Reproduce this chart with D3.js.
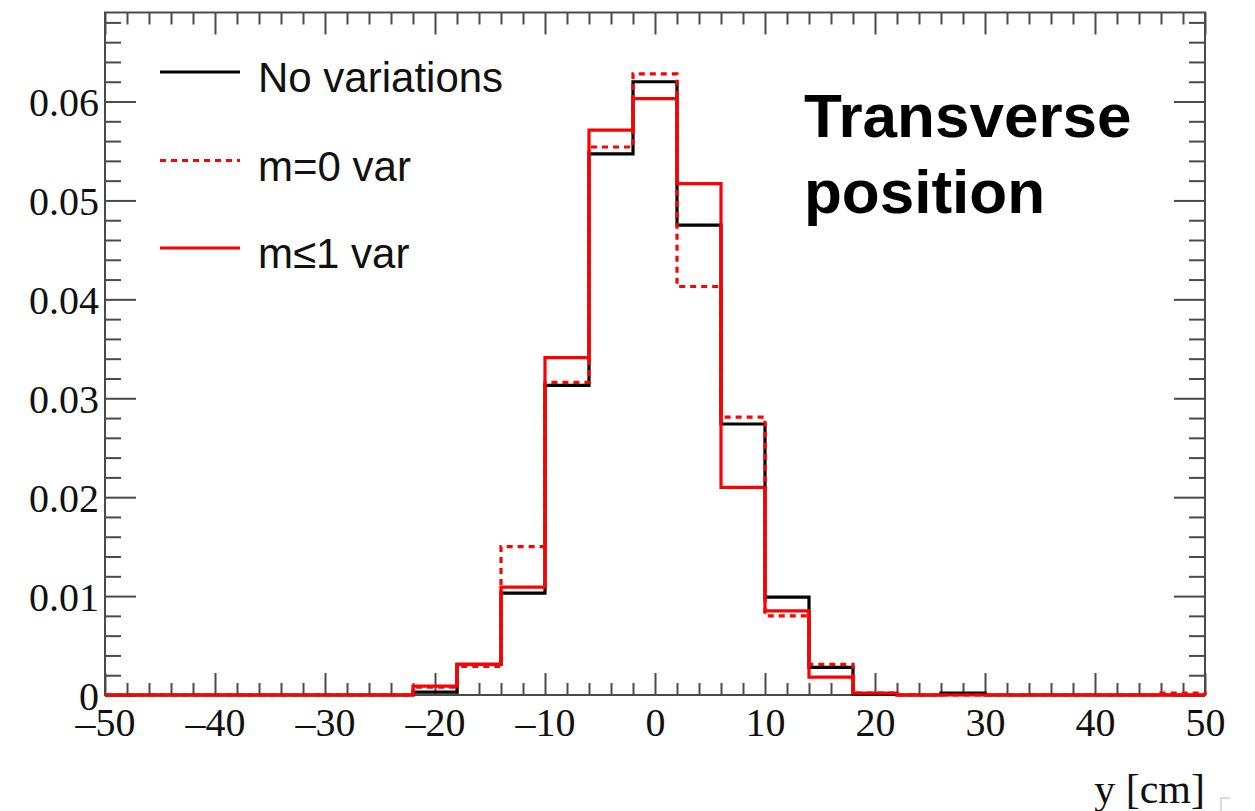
<!DOCTYPE html>
<html>
<head>
<meta charset="utf-8">
<script src="https://cdn.jsdelivr.net/npm/d3@7"></script>
<style>
  html, body { margin: 0; padding: 0; background: #fff; }
  svg { display: block; }
</style>
</head>
<body>
<svg id="chart" width="1255" height="811"></svg>
<script>
// ---------------- data ----------------
const binEdges = [-50,-46,-42,-38,-34,-30,-26,-22,-18,-14,-10,-6,-2,2,6,10,14,18,22,26,30,34,38,42,46,50];
const noVariations = [0,0,0,0,0,0,0,0.0003,0.0031,0.0103,0.0313,0.0547,0.0620,0.0475,0.0274,0.0099,0.0028,0.0001,0,0.0002,0,0,0,0,0];
const m0Var        = [0,0,0,0,0,0,0,0.0008,0.0029,0.0150,0.0316,0.0554,0.0628,0.0413,0.0281,0.0080,0.0031,0.0002,0,0,0,0,0,0,0.0002];
const m1Var        = [0,0,0,0,0,0,0,0.0009,0.0031,0.0109,0.0341,0.0571,0.0603,0.0517,0.0210,0.0085,0.0018,0.0002,0,0,0,0,0,0,0];
const xMajorTicks = [-50,-40,-30,-20,-10,0,10,20,30,40,50];
const yMajorTicks = [0,0.01,0.02,0.03,0.04,0.05,0.06];
const legendLabels = ["No variations", "m=0 var", "m\u22641 var"];
const xTitle = "y [cm]";
const annotation = ["Transverse", "position"];

// ---------------- layout ----------------
const L = 105, R = 1205, T = 12.5, B = 695;
const svg = d3.select("#chart");
const x = d3.scaleLinear().domain([-50, 50]).range([L, R]);
const y = d3.scaleLinear().domain([0, 0.069]).range([B, T]);

const serif = "'Liberation Serif','Times New Roman',serif";
const sans = "'Liberation Sans',Arial,Helvetica,sans-serif";
const axisColor = "#4a4a4a";

// minor tick values
const xMinor = d3.range(-50, 50.001, 2).filter(v => Math.abs(v % 10) > 1e-9);
const yMinor = d3.range(0, 0.0685, 0.002).filter(v => Math.abs(Math.round(v * 1000) % 10) > 1e-9);

function styleAxis(g) {
  g.select(".domain").remove();
  g.selectAll(".tick line").attr("stroke", axisColor).attr("stroke-width", 2);
}

// bottom axis (labels + major ticks inward)
const gx = svg.append("g").attr("transform", `translate(0,${B})`)
  .call(d3.axisBottom(x).tickValues(xMajorTicks).tickSizeInner(-22).tickSizeOuter(0).tickPadding(0)
        .tickFormat(d => d < 0 ? "\u2013" + Math.abs(d) : String(d)));
styleAxis(gx);
gx.selectAll(".tick text").attr("y", 12).attr("dy", "0.72em")
  .attr("font-family", serif).attr("font-size", 40).attr("fill", "#111");
svg.append("g").attr("transform", `translate(0,${B})`)
  .call(d3.axisBottom(x).tickValues(xMinor).tickSizeInner(-12).tickSizeOuter(0).tickFormat(""))
  .call(styleAxis);

// top axis (ticks only, inward)
svg.append("g").attr("transform", `translate(0,${T})`)
  .call(d3.axisTop(x).tickValues(xMajorTicks).tickSizeInner(-22).tickSizeOuter(0).tickFormat(""))
  .call(styleAxis);
svg.append("g").attr("transform", `translate(0,${T})`)
  .call(d3.axisTop(x).tickValues(xMinor).tickSizeInner(-12).tickSizeOuter(0).tickFormat(""))
  .call(styleAxis);

// left axis
const gy = svg.append("g").attr("transform", `translate(${L},0)`)
  .call(d3.axisLeft(y).tickValues(yMajorTicks).tickSizeInner(-31).tickSizeOuter(0).tickPadding(6)
        .tickFormat(d => d === 0 ? "0" : d3.format(".2f")(d)));
styleAxis(gy);
gy.selectAll(".tick text").attr("x", -6).attr("dy", "0.36em")
  .attr("font-family", serif).attr("font-size", 40).attr("fill", "#111");
svg.append("g").attr("transform", `translate(${L},0)`)
  .call(d3.axisLeft(y).tickValues(yMinor).tickSizeInner(-16).tickSizeOuter(0).tickFormat(""))
  .call(styleAxis);

// right axis
svg.append("g").attr("transform", `translate(${R},0)`)
  .call(d3.axisRight(y).tickValues(yMajorTicks).tickSizeInner(-31).tickSizeOuter(0).tickFormat(""))
  .call(styleAxis);
svg.append("g").attr("transform", `translate(${R},0)`)
  .call(d3.axisRight(y).tickValues(yMinor).tickSizeInner(-16).tickSizeOuter(0).tickFormat(""))
  .call(styleAxis);

// frame
svg.append("rect").attr("x", L).attr("y", T).attr("width", R - L).attr("height", B - T)
  .attr("fill", "none").attr("stroke", axisColor).attr("stroke-width", 2);

// ---------------- histograms ----------------
function stepPoints(vals) {
  const pts = [[binEdges[0], 0]];
  vals.forEach((v, i) => { pts.push([binEdges[i], v]); pts.push([binEdges[i + 1], v]); });
  pts.push([binEdges[binEdges.length - 1], 0]);
  return pts;
}
const line = d3.line().x(d => x(d[0])).y(d => y(d[1]));

const series = [
  { vals: noVariations, color: "#000000", dash: null },
  { vals: m0Var,        color: "#ff0000", dash: "6,5" },
  { vals: m1Var,        color: "#ff0000", dash: null }
];
series.forEach(s => {
  svg.append("path").attr("d", line(stepPoints(s.vals)))
    .attr("fill", "none").attr("stroke", s.color).attr("stroke-width", 3.2)
    .attr("stroke-dasharray", s.dash).attr("stroke-linejoin", "miter");
});

// ---------------- legend ----------------
const legY = [72, 160.5, 248];
series.forEach((s, i) => {
  svg.append("line").attr("x1", 160).attr("x2", 240).attr("y1", legY[i]).attr("y2", legY[i])
    .attr("stroke", s.color).attr("stroke-width", 3.2).attr("stroke-dasharray", s.dash);
  svg.append("text").attr("x", 258).attr("y", legY[i] + 20)
    .attr("font-family", sans).attr("font-size", 42).attr("fill", "#111")
    .text(legendLabels[i]);
});

// annotation
annotation.forEach((t, i) => {
  svg.append("text").attr("x", 804).attr("y", 137 + i * 76)
    .attr("font-family", sans).attr("font-weight", "bold").attr("font-size", 62).attr("fill", "#000")
    .text(t);
});

// x axis title
svg.append("text").attr("x", R).attr("y", 803).attr("text-anchor", "end")
  .attr("font-family", serif).attr("font-size", 42).attr("fill", "#111").text(xTitle);

// small corner mark
svg.append("path").attr("d", "M1221,811 L1221,798 L1230,798")
  .attr("fill", "none").attr("stroke", "#d0d0d0").attr("stroke-width", 1.5);
</script>
</body>
</html>
